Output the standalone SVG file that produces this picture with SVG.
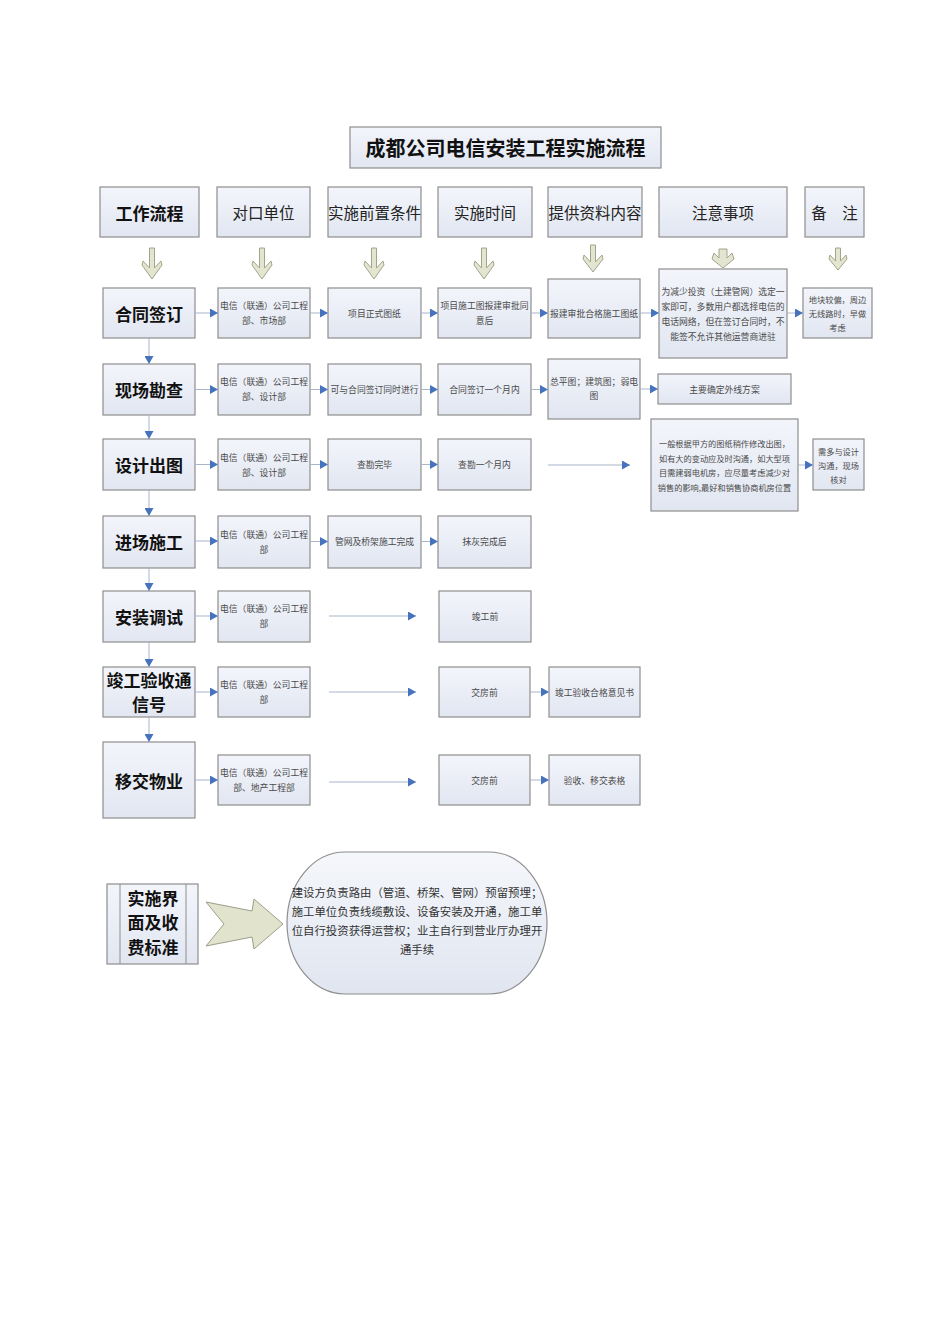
<svg xmlns="http://www.w3.org/2000/svg" width="950" height="1344" viewBox="0 0 950 1344">
<defs>
<linearGradient id="bg" x1="0" y1="0" x2="0" y2="1">
<stop offset="0" stop-color="#F3F5FB"/>
<stop offset="1" stop-color="#E1E6F1"/>
</linearGradient>
<linearGradient id="sg" x1="0" y1="0" x2="0" y2="1">
<stop offset="0" stop-color="#F5F7FB"/>
<stop offset="1" stop-color="#E0E5F0"/>
</linearGradient>
<marker id="ah" markerWidth="8" markerHeight="9" refX="8" refY="4.5" orient="auto" markerUnits="userSpaceOnUse">
<path d="M0,0 L8,4.5 L0,9 z" fill="#4672BE"/>
</marker>
<style>
.b{fill:url(#bg);stroke:#8E8E8E;stroke-width:1.2}
.c{fill:none;stroke:#A9B5CB;stroke-width:1;marker-end:url(#ah)}
.h{fill:#E3E5D1;stroke:#A2A58A;stroke-width:1}
text{font-family:"Noto Sans CJK SC","Liberation Sans",sans-serif;text-anchor:middle;dominant-baseline:central}
.t{font-size:20px;font-weight:bold;fill:#111}
.hd{font-size:15.5px;fill:#222}
.wf{font-size:17px;font-weight:bold;fill:#111}
.s{font-size:8.8px;fill:#4A4A4A}
.n{font-size:8.2px;fill:#4A4A4A}
.g{font-size:11.4px;fill:#333}
</style>
</defs>
<rect width="950" height="1344" fill="#FFFFFF"/>

<g id="title"><rect class="b" x="350" y="127" width="311" height="41"/><text class="t" x="505.5" y="147">成都公司电信安装工程实施流程</text></g>

<g id="headers">
<g id="h0"><rect class="b" x="100" y="187" width="99" height="50"/><text class="wf" x="149.5" y="212">工作流程</text></g>
<g id="h1"><rect class="b" x="217" y="187" width="93" height="50"/><text class="hd" x="263.5" y="212">对口单位</text></g>
<g id="h2"><rect class="b" x="328" y="187" width="93" height="50"/><text class="hd" x="374.5" y="212">实施前置条件</text></g>
<g id="h3"><rect class="b" x="438" y="187" width="94" height="50"/><text class="hd" x="485" y="212">实施时间</text></g>
<g id="h4"><rect class="b" x="548" y="187" width="94" height="50"/><text class="hd" x="595" y="212">提供资料内容</text></g>
<g id="h5"><rect class="b" x="659" y="187" width="128" height="50"/><text class="hd" x="723" y="212">注意事项</text></g>
<g id="h6"><rect class="b" x="805" y="187" width="59" height="50"/><text class="hd" x="834.5" y="212">备　注</text></g>
</g>

<g id="hollow-arrows">
<path class="h" d="M149.5,248 L154.5,248 L154.5,268 L161,261 L162,265 L152,279 L142,265 L143,261 L149.5,268 Z"/>
<path class="h" d="M259.5,248 L264.5,248 L264.5,268 L271,261 L272,265 L262,279 L252,265 L253,261 L259.5,268 Z"/>
<path class="h" d="M371.5,248 L376.5,248 L376.5,268 L383,261 L384,265 L374,279 L364,265 L365,261 L371.5,268 Z"/>
<path class="h" d="M481.5,248 L486.5,248 L486.5,268 L493,261 L494,265 L484,279 L474,265 L475,261 L481.5,268 Z"/>
<path class="h" d="M590.5,245 L595.5,245 L595.5,262 L602,255 L603,259 L593,272 L583,259 L584,255 L590.5,262 Z"/>
<path class="h" d="M719,249 L727,249 L727,258 L732,253 L734,259 L723,268 L712,259 L714,253 L719,258 Z"/>
<path class="h" d="M835.5,248 L840.5,248 L840.5,261 L846,255 L847,259 L838,270 L829,259 L830,255 L835.5,261 Z"/>
</g>

<g id="row1">
<g id="r1c0"><rect class="b" x="103" y="288" width="92" height="50"/><text class="wf" x="149" y="313">合同签订</text></g>
<g id="r1c1"><rect class="b" x="218" y="288" width="92" height="50"/><text class="s" x="264" y="305">电信（联通）公司工程</text><text class="s" x="264" y="320">部、市场部</text></g>
<g id="r1c2"><rect class="b" x="328" y="288" width="93" height="50"/><text class="s" x="374.5" y="313">项目正式图纸</text></g>
<g id="r1c3"><rect class="b" x="438" y="288" width="93" height="50"/><text class="s" x="484.5" y="305">项目施工图报建审批同</text><text class="s" x="484.5" y="320">意后</text></g>
<g id="r1c4"><rect class="b" x="548" y="279" width="92" height="59"/><text class="s" x="594" y="313">报建审批合格施工图纸</text></g>
<g id="r1c5"><rect class="b" x="659" y="269" width="128" height="89"/><text class="s" x="723" y="291">为减少投资（土建管网）选定一</text><text class="s" x="723" y="306">家即可，多数用户都选择电信的</text><text class="s" x="723" y="321">电话网络，但在签订合同时，不</text><text class="s" x="723" y="336">能签不允许其他运营商进驻</text></g>
<g id="r1c6"><rect class="b" x="803" y="288" width="69" height="50"/><text class="n" x="837.5" y="299">地块较偏，周边</text><text class="n" x="837.5" y="313">无线路时，早做</text><text class="n" x="837.5" y="327">考虑</text></g>
</g>

<g id="row2">
<g id="r2c0"><rect class="b" x="103" y="364" width="92" height="51"/><text class="wf" x="149" y="389.5">现场勘查</text></g>
<g id="r2c1"><rect class="b" x="218" y="364" width="92" height="51"/><text class="s" x="264" y="381">电信（联通）公司工程</text><text class="s" x="264" y="396">部、设计部</text></g>
<g id="r2c2"><rect class="b" x="328" y="364" width="93" height="51"/><text class="s" x="374.5" y="389.5">可与合同签订同时进行</text></g>
<g id="r2c3"><rect class="b" x="438" y="364" width="93" height="51"/><text class="s" x="484.5" y="389.5">合同签订一个月内</text></g>
<g id="r2c4"><rect class="b" x="548" y="359" width="92" height="60"/><text class="s" x="594" y="381">总平图；建筑图；弱电</text><text class="s" x="594" y="395">图</text></g>
<g id="r2c5"><rect class="b" x="658" y="374" width="133" height="30"/><text class="s" x="724.5" y="389">主要确定外线方案</text></g>
</g>

<g id="row3">
<g id="r3c0"><rect class="b" x="103" y="439" width="92" height="51"/><text class="wf" x="149" y="464.5">设计出图</text></g>
<g id="r3c1"><rect class="b" x="218" y="439" width="92" height="51"/><text class="s" x="264" y="457">电信（联通）公司工程</text><text class="s" x="264" y="472">部、设计部</text></g>
<g id="r3c2"><rect class="b" x="328" y="439" width="93" height="51"/><text class="s" x="374.5" y="464.5">查勘完毕</text></g>
<g id="r3c3"><rect class="b" x="438" y="439" width="93" height="51"/><text class="s" x="484.5" y="464.5">查勘一个月内</text></g>
<g id="r3c5"><rect class="b" x="651" y="419" width="147" height="92"/><text class="n" x="724.5" y="443">一般根据甲方的图纸稍作修改出图，</text><text class="n" x="724.5" y="457.5">如有大的变动应及时沟通，如大型项</text><text class="n" x="724.5" y="472">目需建弱电机房，应尽量考虑减少对</text><text class="n" x="724.5" y="486.5">销售的影响,最好和销售协商机房位置</text></g>
<g id="r3c6"><rect class="b" x="813" y="439" width="51" height="51"/><text class="n" x="838.5" y="451">需多与设计</text><text class="n" x="838.5" y="465">沟通，现场</text><text class="n" x="838.5" y="479">核对</text></g>
</g>

<g id="row4">
<g id="r4c0"><rect class="b" x="103" y="516" width="92" height="52"/><text class="wf" x="149" y="541.5">进场施工</text></g>
<g id="r4c1"><rect class="b" x="218" y="516" width="92" height="52"/><text class="s" x="264" y="534">电信（联通）公司工程</text><text class="s" x="264" y="549">部</text></g>
<g id="r4c2"><rect class="b" x="328" y="516" width="93" height="52"/><text class="s" x="374.5" y="541.5">管网及桥架施工完成</text></g>
<g id="r4c3"><rect class="b" x="438" y="516" width="93" height="52"/><text class="s" x="484.5" y="541.5">抹灰完成后</text></g>
</g>

<g id="row5">
<g id="r5c0"><rect class="b" x="103" y="591" width="92" height="51"/><text class="wf" x="149" y="616">安装调试</text></g>
<g id="r5c1"><rect class="b" x="218" y="591" width="92" height="51"/><text class="s" x="264" y="608">电信（联通）公司工程</text><text class="s" x="264" y="623">部</text></g>
<g id="r5c3"><rect class="b" x="439" y="591" width="92" height="51"/><text class="s" x="485" y="616">竣工前</text></g>
</g>

<g id="row6">
<g id="r6c0"><rect class="b" x="103" y="667" width="92" height="50"/><text class="wf" x="149" y="679">竣工验收通</text><text class="wf" x="149" y="703">信号</text></g>
<g id="r6c1"><rect class="b" x="218" y="667" width="92" height="50"/><text class="s" x="264" y="684">电信（联通）公司工程</text><text class="s" x="264" y="699">部</text></g>
<g id="r6c3"><rect class="b" x="439" y="667" width="91" height="50"/><text class="s" x="484.5" y="692">交房前</text></g>
<g id="r6c4"><rect class="b" x="549" y="667" width="91" height="50"/><text class="s" x="594.5" y="692">竣工验收合格意见书</text></g>
</g>

<g id="row7">
<g id="r7c0"><rect class="b" x="103" y="742" width="92" height="76"/><text class="wf" x="149" y="780">移交物业</text></g>
<g id="r7c1"><rect class="b" x="218" y="755" width="92" height="50"/><text class="s" x="264" y="772">电信（联通）公司工程</text><text class="s" x="264" y="787">部、地产工程部</text></g>
<g id="r7c3"><rect class="b" x="439" y="755" width="91" height="50"/><text class="s" x="484.5" y="780">交房前</text></g>
<g id="r7c4"><rect class="b" x="549" y="755" width="91" height="50"/><text class="s" x="594.5" y="780">验收、移交表格</text></g>
</g>

<g id="connectors">
<path class="c" d="M149,338 V364"/>
<path class="c" d="M149,415 V439"/>
<path class="c" d="M149,490 V516"/>
<path class="c" d="M149,568 V591"/>
<path class="c" d="M149,642 V667"/>
<path class="c" d="M149,717 V742"/>
<path class="c" d="M195,313 H218"/>
<path class="c" d="M310,313 H328"/>
<path class="c" d="M421,313 H438"/>
<path class="c" d="M531,313 H548"/>
<path class="c" d="M640,313 H659"/>
<path class="c" d="M787,313 H803"/>
<path class="c" d="M195,389.5 H218"/>
<path class="c" d="M310,389.5 H328"/>
<path class="c" d="M421,389.5 H438"/>
<path class="c" d="M531,389.5 H548"/>
<path class="c" d="M640,389 H658"/>
<path class="c" d="M195,464.5 H218"/>
<path class="c" d="M310,464.5 H328"/>
<path class="c" d="M421,464.5 H438"/>
<path class="c" d="M548,465 H630"/>
<path class="c" d="M798,465 H813"/>
<path class="c" d="M195,541 H218"/>
<path class="c" d="M310,541.5 H328"/>
<path class="c" d="M421,541.5 H438"/>
<path class="c" d="M195,616 H218"/>
<path class="c" d="M329,616 H416"/>
<path class="c" d="M195,692 H218"/>
<path class="c" d="M329,692 H416"/>
<path class="c" d="M530,692 H549"/>
<path class="c" d="M195,780 H218"/>
<path class="c" d="M329,782 H416"/>
<path class="c" d="M530,780 H549"/>
</g>

<g id="scope">
<rect x="107" y="884" width="91" height="80" fill="url(#bg)" stroke="#8E8E8E" stroke-width="1.2"/>
<line x1="120" y1="884" x2="120" y2="964" stroke="#8E8E8E" stroke-width="1"/>
<line x1="186" y1="884" x2="186" y2="964" stroke="#8E8E8E" stroke-width="1"/>
<text class="wf" x="153" y="897">实施界</text>
<text class="wf" x="153" y="921">面及收</text>
<text class="wf" x="153" y="946">费标准</text>
</g>

<g id="big-arrow">
<path d="M206,902 L252,911 L254,899 L283,924 L254,949 L252,937 L206,946 L224,924 Z" fill="#E1E3CD" stroke="#9C9F88" stroke-width="1"/>
</g>

<g id="scope-text">
<rect x="287" y="852" width="260" height="142" rx="58" ry="71" fill="url(#sg)" stroke="#8E8E8E" stroke-width="1.2"/>
<text class="g" x="417" y="892">建设方负责路由（管道、桥架、管网）预留预埋；</text>
<text class="g" x="417" y="911">施工单位负责线缆敷设、设备安装及开通，施工单</text>
<text class="g" x="417" y="930">位自行投资获得运营权；业主自行到营业厅办理开</text>
<text class="g" x="417" y="949">通手续</text>
</g>
</svg>
